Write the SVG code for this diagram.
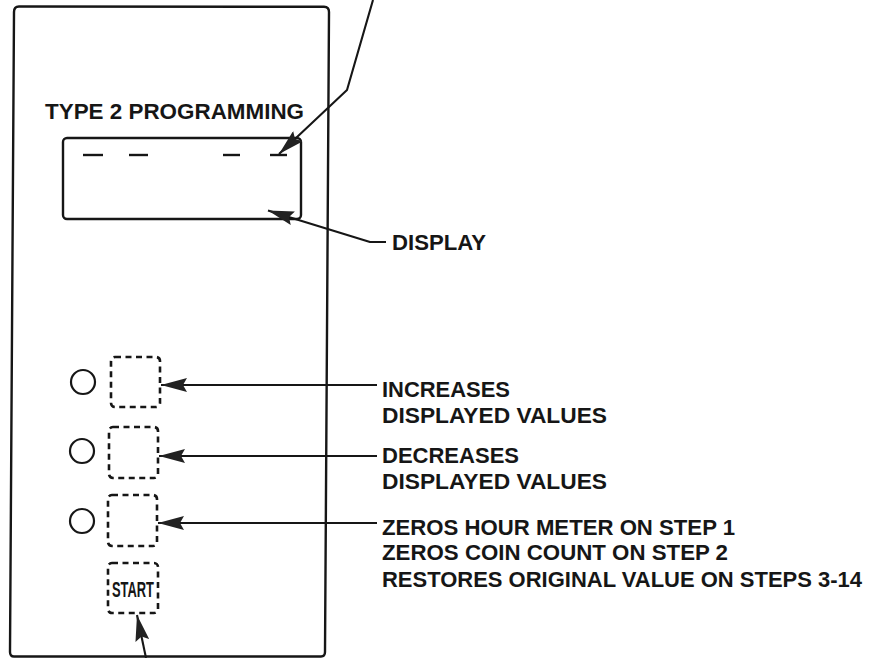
<svg xmlns="http://www.w3.org/2000/svg" width="885" height="658" viewBox="0 0 885 658">
  <style>
    .ink { fill: none; stroke: #161616; stroke-width: 2.4; stroke-linejoin: round; }
    .key { fill: none; stroke: #161616; stroke-width: 2.6; stroke-dasharray: 6 4.5; }
    .led { fill: none; stroke: #161616; stroke-width: 2.2; }
    .wire { fill: none; stroke: #161616; stroke-width: 2.1; stroke-linejoin: round; }
    .lbl { font-family: "Liberation Sans", Arial, Helvetica, sans-serif; font-weight: bold; font-size: 22px; fill: #161616; }
    .seg { stroke: #161616; stroke-width: 2.4; }
  </style>
  <defs>
    <marker id="head" viewBox="0 0 26 14" refX="26" refY="7" markerWidth="26" markerHeight="14" markerUnits="userSpaceOnUse" orient="auto">
      <path d="M0,0 L26,7 L0,14 L4,7 z" fill="#222222"/>
    </marker>
  </defs>
  <rect width="885" height="658" fill="#ffffff"/>

  <!-- control panel outline -->
  <g id="panel">
    <path class="ink" d="M14,12 Q14,6.5 19,6.5 L324,6.8 Q329,7 329,12 L325,652 Q325,656.5 321,656.5 L14,656.5 Q10,656.5 10,652 Z"/>
    <text class="lbl" x="45" y="118.5" font-size="22.5" textLength="259" lengthAdjust="spacingAndGlyphs">TYPE 2 PROGRAMMING</text>
  </g>

  <!-- digit display window -->
  <g id="display">
    <rect class="ink" x="63" y="138" width="238" height="81" rx="4"/>
    <line class="seg" x1="83" y1="155" x2="103" y2="155"/>
    <line class="seg" x1="129" y1="155" x2="148" y2="155"/>
    <line class="seg" x1="223" y1="155" x2="240" y2="155"/>
    <line class="seg" x1="270" y1="155" x2="287" y2="155"/>
  </g>

  <!-- up key -->
  <g id="key-up">
    <circle class="led" cx="83" cy="382" r="12"/>
    <rect class="key" x="111" y="357" width="49" height="50" rx="4"/>
  </g>

  <!-- down key -->
  <g id="key-down">
    <circle class="led" cx="82" cy="451" r="12"/>
    <rect class="key" x="109" y="427" width="49" height="51" rx="4"/>
  </g>

  <!-- clear key -->
  <g id="key-clear">
    <circle class="led" cx="82" cy="521" r="12"/>
    <rect class="key" x="108" y="495" width="49" height="51" rx="4"/>
  </g>

  <!-- start key -->
  <g id="key-start">
    <rect class="key" x="108" y="563" width="50" height="50" rx="4"/>
    <text class="lbl" x="133" y="597" font-size="14.5" text-anchor="middle" textLength="42" lengthAdjust="spacingAndGlyphs">START</text>
  </g>

  <!-- callout texts -->
  <g id="label-display">
    <text class="lbl" x="392" y="250" textLength="94" lengthAdjust="spacingAndGlyphs">DISPLAY</text>
  </g>
  <g id="label-up">
    <text class="lbl" x="382" y="397" textLength="128" lengthAdjust="spacingAndGlyphs">INCREASES</text>
    <text class="lbl" x="382" y="423" textLength="225" lengthAdjust="spacingAndGlyphs">DISPLAYED VALUES</text>
  </g>
  <g id="label-down">
    <text class="lbl" x="382" y="463" textLength="137" lengthAdjust="spacingAndGlyphs">DECREASES</text>
    <text class="lbl" x="382" y="489" textLength="225" lengthAdjust="spacingAndGlyphs">DISPLAYED VALUES</text>
  </g>
  <g id="label-clear">
    <text class="lbl" x="382" y="535" textLength="353" lengthAdjust="spacingAndGlyphs">ZEROS HOUR METER ON STEP 1</text>
    <text class="lbl" x="382" y="560" textLength="346" lengthAdjust="spacingAndGlyphs">ZEROS COIN COUNT ON STEP 2</text>
    <text class="lbl" x="382" y="587" textLength="480" lengthAdjust="spacingAndGlyphs">RESTORES ORIGINAL VALUE ON STEPS 3-14</text>
  </g>

  <!-- leader lines -->
  <g id="connectors">
    <polyline class="wire" points="373,0 347,90 279,154" marker-end="url(#head)"/>
    <polyline class="wire" points="386,242 370,242 292,218 268,210.5" marker-end="url(#head)"/>
    <line class="wire" x1="377" y1="385" x2="161" y2="385" marker-end="url(#head)"/>
    <line class="wire" x1="377" y1="456" x2="159" y2="456" marker-end="url(#head)"/>
    <line class="wire" x1="377" y1="523" x2="158" y2="523" marker-end="url(#head)"/>
    <line class="wire" x1="146" y1="658" x2="137" y2="615" marker-end="url(#head)"/>
  </g>
</svg>
